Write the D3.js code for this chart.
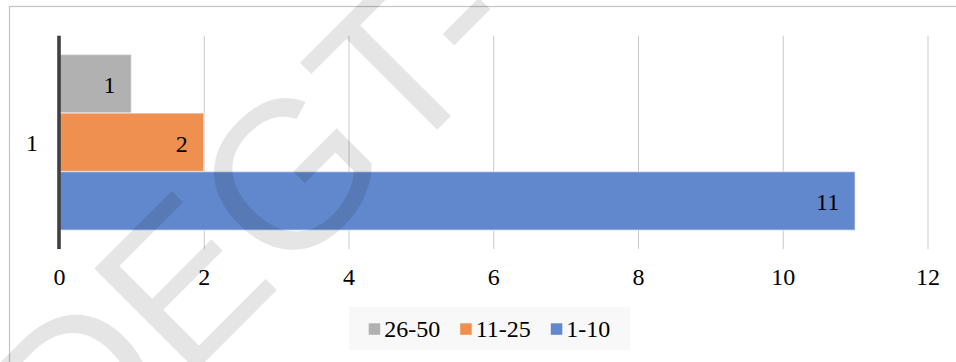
<!DOCTYPE html>
<html>
<head>
<meta charset="utf-8">
<script src="https://cdn.jsdelivr.net/npm/d3@7"></script>
<style>
  html, body { margin: 0; padding: 0; background: #fff; }
  svg { display: block; }
</style>
</head>
<body>
<svg id="chart" width="956" height="362"></svg>
<script>
// ---- data ----
const categories = ["1"];
const seriesNames = ["26-50", "11-25", "1-10"];
const seriesValues = [[1], [2], [11]];
const seriesColors = ["#B1B1B1", "#EF9050", "#6188CC"];
const xTicks = [0, 2, 4, 6, 8, 10, 12];
const watermarkText = "DEGT-";

const SERIF = '"Liberation Serif", "Times New Roman", serif';
const svg = d3.select("#chart");
const W = 956, H = 362;

// frame
svg.append("rect")
  .attr("x", 9.5).attr("y", 6.5)
  .attr("width", W + 10).attr("height", H + 10)
  .attr("fill", "#fff").attr("stroke", "#C4C4C4").attr("stroke-width", 1.2);

const plot = { left: 59, right: 927.5, top: 35.7, bottom: 249 };

const x = d3.scaleLinear().domain([0, 12]).range([plot.left, plot.right]);
const y = d3.scaleBand().domain(categories).range([plot.top, plot.bottom])
  .paddingInner(0).paddingOuter(0.107);
const ys = d3.scaleBand().domain(seriesNames).range([0, y.bandwidth()]).padding(0);

// gridlines
svg.append("g")
  .selectAll("line")
  .data(xTicks.filter(d => d !== 0))
  .join("line")
  .attr("x1", d => x(d) + 0.5).attr("x2", d => x(d) + 0.5)
  .attr("y1", plot.top).attr("y2", plot.bottom)
  .attr("stroke", "#C9C9C9").attr("stroke-width", 1);

// bars
const rows = [];
seriesNames.forEach((s, si) => {
  categories.forEach((c, ci) => {
    rows.push({ s, c, v: seriesValues[si][ci], color: seriesColors[si] });
  });
});

svg.append("g")
  .selectAll("rect")
  .data(rows)
  .join("rect")
  .attr("x", x(0))
  .attr("y", d => y(d.c) + ys(d.s))
  .attr("width", d => x(d.v) - x(0))
  .attr("height", ys.bandwidth())
  .attr("fill", d => d.color)
  .attr("stroke", "#ffffff").attr("stroke-opacity", 0.45).attr("stroke-width", 1.5);

// data labels
svg.append("g")
  .selectAll("text")
  .data(rows)
  .join("text")
  .attr("x", d => x(d.v) - 16)
  .attr("y", d => y(d.c) + ys(d.s) + ys.bandwidth() / 2 + 9.5)
  .attr("text-anchor", "end")
  .style("font-family", SERIF).style("font-size", "24px")
  .attr("fill", "#000")
  .text(d => d.v);

// value axis (bottom)
const xAxis = d3.axisBottom(x).tickValues(xTicks).tickSize(0).tickFormat(d3.format("d"));
const gx = svg.append("g").attr("transform", `translate(0,${plot.bottom})`).call(xAxis);
gx.select(".domain").remove();
gx.selectAll("text")
  .attr("dy", null).attr("y", 36)
  .attr("fill", "#000")
  .style("font-family", SERIF).style("font-size", "24px");

// category axis (left)
const yAxis = d3.axisLeft(y).tickSize(0);
const gy = svg.append("g").attr("transform", `translate(${plot.left},0)`).call(yAxis);
gy.select(".domain").remove();
gy.selectAll("text")
  .attr("dy", null).attr("x", -21)
  .attr("transform", "translate(0,8.5)")
  .attr("fill", "#000")
  .attr("text-anchor", "end")
  .style("font-family", SERIF).style("font-size", "24px");

// vertical axis line at 0
svg.append("line")
  .attr("x1", x(0)).attr("x2", x(0))
  .attr("y1", plot.top).attr("y2", plot.bottom)
  .attr("stroke", "#404040").attr("stroke-width", 3.6);

// legend
const legendBox = { x: 349, y: 306.7, w: 281, h: 43.3 };
svg.append("rect")
  .attr("x", legendBox.x).attr("y", legendBox.y)
  .attr("width", legendBox.w).attr("height", legendBox.h)
  .attr("fill", "#F8F8F8");

const lg = svg.append("g");
const items = lg.selectAll("g").data(seriesNames).join("g");
items.append("rect")
  .attr("width", 11.5).attr("height", 11.5)
  .attr("y", 323.3)
  .attr("fill", (d, i) => seriesColors[i]);
items.append("text")
  .attr("y", 336.5)
  .style("font-family", SERIF).style("font-size", "24px")
  .attr("fill", "#000")
  .text(d => d);
let cx = 0;
const offs = [];
items.each(function (d, i) {
  const tw = d3.select(this).select("text").node().getComputedTextLength();
  offs.push(cx);
  d3.select(this).select("text").attr("x", 15.5);
  cx += 15.5 + tw + 20;
});
const totalW = cx - 20;
const startX = legendBox.x + legendBox.w / 2 - totalW / 2;
items.attr("transform", (d, i) => `translate(${startX + offs[i]},0)`);

// watermark
svg.append("text")
  .attr("transform", "translate(77,490) rotate(-45)")
  .style("font-family", '"Liberation Sans", Arial, sans-serif').style("font-size", "210px")
  .attr("fill", "#000").attr("fill-opacity", 0.1)
  .text(watermarkText);
</script>
</body>
</html>
